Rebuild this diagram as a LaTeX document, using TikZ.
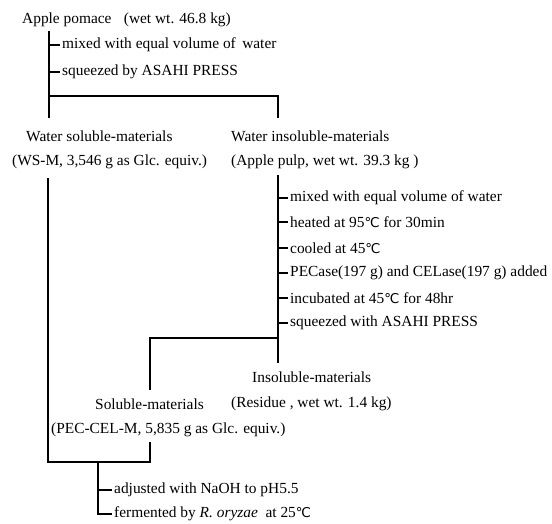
\documentclass[tikz,border=0pt]{standalone}
\usepackage{fontspec}
\setmainfont{Liberation Serif}
\newfontfamily\degfont{DejaVu Sans}
\newcommand{\degC}{{\degfont\fontsize{13.5}{15}\selectfont ℃}}

\begin{document}
\begin{tikzpicture}[x=1pt,y=-1pt,
    every node/.style={font=\fontsize{15.4}{18}\selectfont, inner sep=0pt},
    lbl/.style={anchor=west},
    flow/.style={line width=1.7pt},
    tick/.style={line width=1.7pt}]
	\useasboundingbox (0,0) rectangle (552,524);

	% starting material
	\node[lbl] (pomace) at (22,20) {Apple pomace\hspace{0.8em}(wet wt. 46.8 kg)};
	\coordinate (top) at (49,31);
	\node[lbl] (mix1) at (62,45) {mixed with equal volume of\, water};
	\node[lbl] (sqz1) at (62,72) {squeezed by ASAHI PRESS};
	\coordinate (split1) at (49,96);
	\coordinate (splitR) at (278,96);
	\coordinate (dropL) at (49,118);
	\coordinate (dropR) at (278,118);
	\draw[flow] (top) -- (split1) -- (dropL);
	\draw[flow] (split1) -- (splitR) -- (dropR);
	\draw[tick] (top |- mix1.west) -- ([xshift=-2pt]mix1.west);
	\draw[tick] (top |- sqz1.west) -- ([xshift=-2pt]sqz1.west);

	% first separation
	\node[lbl] (wsm) at (26,136) {Water soluble-materials};
	\node[lbl] (wsmval) at (12,162) {(WS-M, 3,546 g as Glc. equiv.)};
	\node[lbl] (wim) at (231,136) {Water insoluble-materials};
	\node[lbl] (wimval) at (231,162) {(Apple pulp, wet wt. 39.3 kg )};

	% enzyme treatment of the pulp
	\coordinate (pulp) at (278,175);
	\coordinate (pulpend) at (278,363);
	\draw[flow] (pulp) -- (pulpend);
	\foreach \name/\y/\txt in {
	    r1/198/{mixed with equal volume of water},
	    r2/222/{heated at 95\degC\ for 30min},
	    r3/248/{cooled at 45\degC},
	    r4/273/{PECase(197 g) and CELase(197 g) added},
	    r5/298/{incubated at 45\degC\ for 48hr},
	    r6/323/{squeezed with ASAHI PRESS}} {
	  \node[lbl] (\name) at (290,\y) {\txt};
	  \draw[tick] (pulp |- \name.west) -- ([xshift=-2pt]\name.west);
	}
	\coordinate (split2) at (278,338);
	\coordinate (split2L) at (150,338);
	\coordinate (drop2L) at (150,390);
	\draw[flow] (split2) -- (split2L) -- (drop2L);

	% second separation
	\node[lbl] (ism) at (252,377) {Insoluble-materials};
	\node[lbl] (ismval) at (231,404) {(Residue , wet wt. 1.4 kg)};
	\node[lbl] (sm) at (95,404) {Soluble-materials};
	\node[lbl] (smval) at (51,430) {(PEC-CEL-M, 5,835 g as Glc. equiv.)};

	% combining and fermentation
	\coordinate (wsdown) at (48,178);
	\coordinate (join1) at (48,462);
	\coordinate (pecdown) at (150,442);
	\coordinate (join2) at (150,462);
	\coordinate (mid) at (98,462);
	\draw[flow] (wsdown) -- (join1) -- (join2) -- (pecdown);
	\node[lbl] (adj) at (114,490) {adjusted with NaOH to pH5.5};
	\node[lbl] (ferm) at (114,514) {fermented by \textit{R. oryzae}\ \ at 25\degC};
	\draw[tick] (mid |- adj.west) -- ([xshift=-2pt]adj.west);
	\draw[flow] (mid) -- (mid |- ferm.west) -- ([xshift=-2pt]ferm.west);
\end{tikzpicture}
\end{document}
